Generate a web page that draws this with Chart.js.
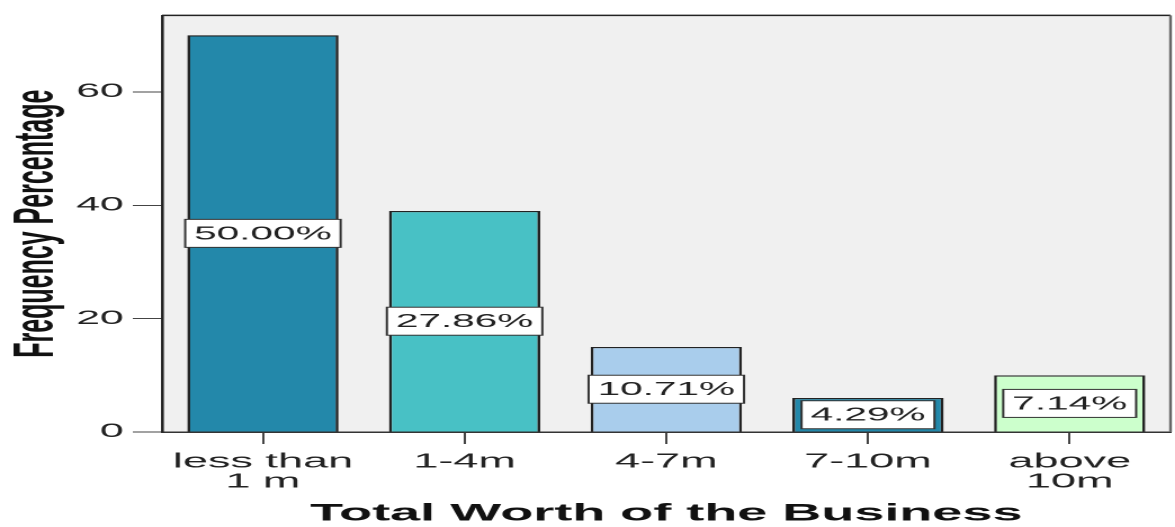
<!DOCTYPE html>
<html>
<head>
<meta charset="utf-8">
<script src="https://cdn.jsdelivr.net/npm/chart.js@4.4.0/dist/chart.umd.min.js"></script>
<style>
  html, body { margin: 0; padding: 0; background: #fff; overflow: hidden; }
  /* the original picture is stretched sideways, so draw narrow and stretch */
  #wrap { width: 522px; height: 527px; transform: scaleX(2.251); transform-origin: 0 0; }
</style>
</head>
<body>
<div id="wrap"><canvas id="worthChart"></canvas></div>
<script>
const categories = [['less than', '1 m'], ['1-4m'], ['4-7m'], ['7-10m'], ['above', '10m']]
const counts = [70, 39, 15, 6, 10]
const percentLabels = ['50.00%', '27.86%', '10.71%', '4.29%', '7.14%']
const barColors = ['#2388aa', '#48c1c5', '#a9cdec', '#2388aa', '#ccffcc']

const FONT = '"Liberation Sans", Arial, sans-serif'

const plotFrame = {
    id: 'plotFrame',
    beforeDraw(chart) {
        const { ctx, chartArea: a } = chart
        ctx.save()
        ctx.fillStyle = '#f0f0f0'
        ctx.fillRect(a.left, a.top, a.right - a.left, a.bottom - a.top)
        ctx.restore()
    },
    afterDraw(chart) {
        const { ctx, chartArea: a } = chart
        ctx.save()
        ctx.strokeStyle = '#222'
        ctx.lineWidth = 1.5
        ctx.beginPath()
        ctx.moveTo(a.left, a.top)
        ctx.lineTo(a.right, a.top)
        ctx.stroke()
        ctx.strokeStyle = '#666'
        ctx.lineWidth = 1.2
        ctx.beginPath()
        ctx.moveTo(a.right, a.top)
        ctx.lineTo(a.right, a.bottom)
        ctx.stroke()
        ctx.restore()
    }
}

// white boxes with the percentage in the middle of each bar
const percentBoxes = {
    id: 'percentBoxes',
    afterDatasetsDraw(chart) {
        const ctx = chart.ctx
        const bars = chart.getDatasetMeta(0).data
        ctx.save()
        ctx.font = '18px ' + FONT
        ctx.textAlign = 'center'
        ctx.textBaseline = 'middle'
        bars.forEach((bar, i) => {
            const text = percentLabels[i]
            const w = ctx.measureText(text).width + 8
            const h = 28
            const cy = (bar.y + bar.base) / 2
            ctx.fillStyle = '#fff'
            ctx.fillRect(bar.x - w / 2, cy - h / 2, w, h)
            ctx.strokeStyle = '#333'
            ctx.lineWidth = 1
            ctx.strokeRect(bar.x - w / 2, cy - h / 2, w, h)
            ctx.fillStyle = '#222'
            ctx.fillText(text, bar.x, cy + 1)
        })
        ctx.restore()
    }
}

const chart = new Chart(document.getElementById('worthChart'), {
    type: 'bar',
    data: {
        labels: categories,
        datasets: [{
            data: counts,
            backgroundColor: barColors,
            borderColor: '#222',
            borderWidth: 1.3,
            barPercentage: 0.75,
            categoryPercentage: 1
        }]
    },
    options: {
        responsive: true,
        maintainAspectRatio: false,
        animation: false,
        devicePixelRatio: 2,
        layout: { padding: { top: 13, right: 2, left: 0, bottom: 0 } },
        plugins: {
            legend: { display: false },
            tooltip: { enabled: false }
        },
        scales: {
            x: {
                afterFit: (s) => { s.height = 95 },
                grid: {
                    offset: false,
                    drawOnChartArea: false,
                    drawTicks: true,
                    tickLength: 12,
                    color: '#444',
                    lineWidth: 1
                },
                border: { display: true, color: '#333', width: 1.5 },
                ticks: {
                    color: '#222',
                    padding: 8,
                    maxRotation: 0,
                    autoSkip: false,
                    font: { family: FONT, size: 20, lineHeight: 1.0 }
                },
                title: {
                    display: true,
                    text: 'Total Worth of the Business',
                    color: '#111',
                    padding: { top: 0, bottom: 0 },
                    font: { family: FONT, size: 24, weight: 'bold', lineHeight: 1.1 }
                }
            },
            y: {
                min: 0,
                max: 73.5,
                afterFit: (s) => { s.width = 72 },
                grid: {
                    drawOnChartArea: false,
                    drawTicks: true,
                    tickLength: 13,
                    color: '#444',
                    lineWidth: 1
                },
                border: { display: true, color: '#222', width: 1.3 },
                ticks: {
                    stepSize: 20,
                    includeBounds: false,
                    color: '#222',
                    padding: 4,
                    font: { family: FONT, size: 19 }
                },
                title: {
                    display: true,
                    text: 'Frequency Percentage',
                    color: '#111',
                    padding: { top: 1.5, bottom: 0 },
                    font: { family: FONT, size: 25, weight: 'bold', lineHeight: 1.2 }
                }
            }
        }
    },
    plugins: [plotFrame, percentBoxes]
})
</script>
</body>
</html>
